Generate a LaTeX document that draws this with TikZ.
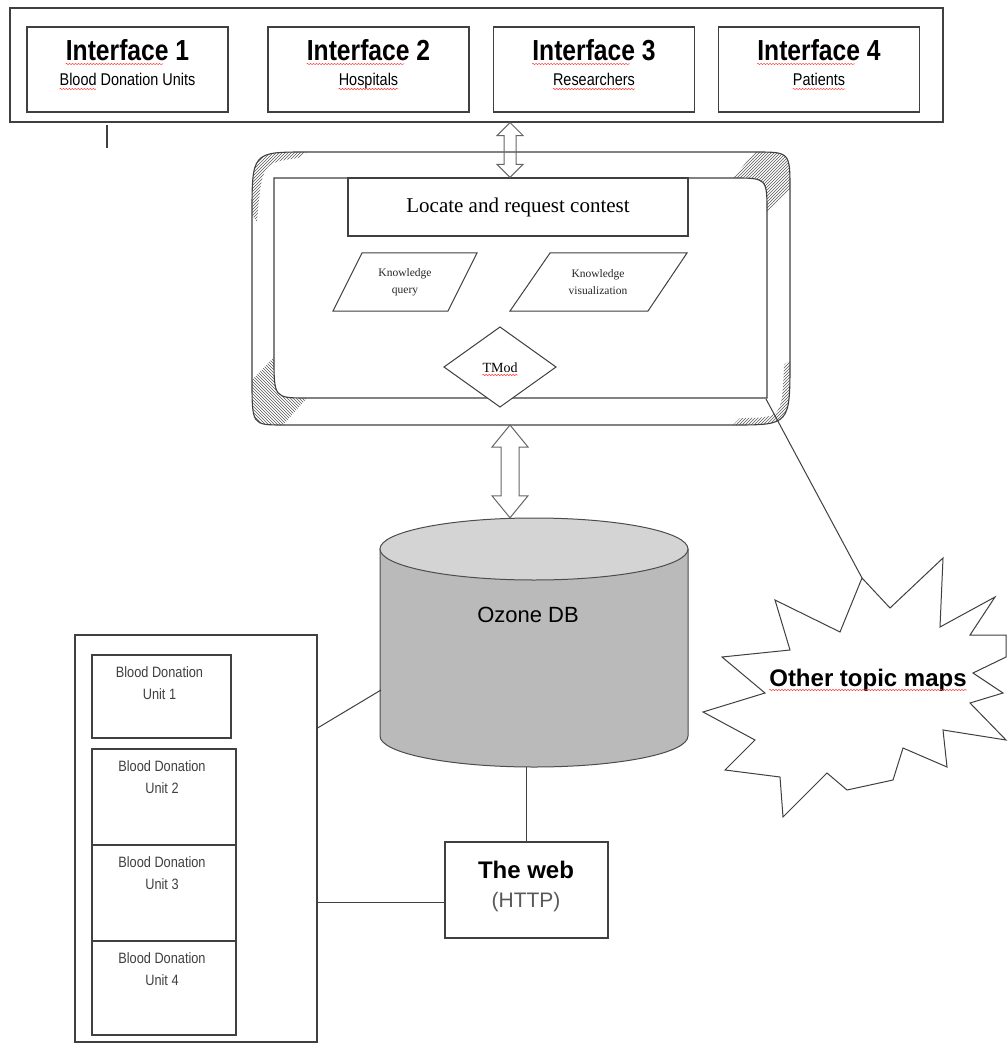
\documentclass[tikz,border=0pt]{standalone}
\usepackage{fontspec}
\setmainfont{Liberation Serif}
\setsansfont{Liberation Sans}
\newfontfamily\narrowsans[FakeStretch=0.85]{Liberation Sans}
\usetikzlibrary{calc,patterns,decorations.pathmorphing}
\newcommand{\hollowdbl}[5]{%
  \draw[arrowln] (#1) -- ($(#1)+(#4,#5)$) -- ($(#1)+(#3,#5)$) -- ($(#2)+(#3,-#5)$) -- ($(#2)+(#4,-#5)$) -- (#2)
   -- ($(#2)+(-#4,-#5)$) -- ($(#2)+(-#3,-#5)$) -- ($(#1)+(-#3,#5)$) -- ($(#1)+(-#4,#5)$) -- cycle;}
\begin{document}
\begin{tikzpicture}[x=1pt,y=-1pt,
  ln/.style={draw=black!75,line width=1.1pt},
  box/.style={ln,fill=white,inner sep=0pt},
  arrowln/.style={draw=black!60,line width=1pt},
  ttl/.style={font=\narrowsans\bfseries\fontsize{29}{30}\selectfont,inner sep=0pt,anchor=base},
  sub/.style={font=\narrowsans\fontsize{17}{19}\selectfont,inner sep=0pt,anchor=base},
  unittxt/.style={font=\narrowsans\fontsize{15}{22}\selectfont,text=black!75,align=center,inner sep=0pt,anchor=north},
  ktxt/.style={font=\fontsize{11.5}{17}\selectfont,text=black!85,align=center,inner sep=0pt},
  hatch/.style={pattern=north east lines,pattern color=black!65},
  squig/.style={draw=red!75,line width=0.5pt,decorate,decoration={snake,amplitude=0.7pt,segment length=3pt}}
]
\useasboundingbox (0,0) rectangle (1007,1056);
\fill[white] (0,0) rectangle (1007,1056);

% ---------- top interface strip ----------
\node[box,minimum width=933pt,minimum height=114pt] (top) at (476.5,65) {};
\foreach \i/\x/\s in {1/127.5/Blood Donation Units,2/368.5/Hospitals,3/594/Researchers,4/819/Patients}{
  \node[box,minimum width=201pt,minimum height=85pt,line width=1.3pt] (if\i) at (\x,69.5) {};
  \node[ttl] (t\i) at (\x,61) {Interface \i};
  \node[sub] (s\i) at (\x,86) {\s};
  \draw[squig] ($(t\i.base west)+(0,3)$) -- ($(t\i.base west)!0.79!(t\i.base east)+(0,3)$);
}
\draw[squig] ($(s1.base west)+(0,3)$) -- ($(s1.base west)!0.27!(s1.base east)+(0,3)$);
\foreach \i in {2,3,4}{\draw[squig] ($(s\i.base west)+(0,3)$) -- ($(s\i.base east)+(0,3)$);}
\coordinate (stubA) at (107,125);
\coordinate (stubB) at (107,148);
\draw[ln] (stubA) -- (stubB);

% ---------- bevel panel ----------
\fill[white] (307,152) -- (755,152) .. controls (790,152) .. (790,190) -- (790,360) .. controls (790,425) .. (733,425)
  -- (283,425) .. controls (252,425) .. (252,380) -- (252,215) .. controls (252,152) .. (307,152) -- cycle;
\fill[hatch] (252,215) .. controls (252,152) .. (307,152) -- (298,158) .. controls (262,163) .. (257,222) -- cycle;
\fill[hatch] (755,152) .. controls (790,152) .. (790,190) -- (767,213) .. controls (767,178) .. (733,178) -- cycle;
\fill[pattern=north west lines,pattern color=black!65] (252,380) .. controls (252,425) .. (283,425) -- (307,398) .. controls (274,398) .. (274,357) -- cycle;
\fill[hatch] (790,360) .. controls (790,425) .. (733,425) -- (740,418) .. controls (782,418) .. (784,365) -- cycle;
\draw[ln] (307,152) -- (755,152) .. controls (790,152) .. (790,190) -- (790,360) .. controls (790,425) .. (733,425)
  -- (283,425) .. controls (252,425) .. (252,380) -- (252,215) .. controls (252,152) .. (307,152) -- cycle;
\draw[ln] (274,178) -- (733,178) .. controls (767,178) .. (767,213) -- (767,398) -- (307,398) .. controls (274,398) .. (274,357) -- cycle;
\coordinate (bevTop) at (510,152);
\coordinate (bevBot) at (510,425);
\coordinate (bevBR) at (766,399);

\node[box,minimum width=340pt,minimum height=58pt,font=\fontsize{21}{22}\selectfont] (locate) at (518,207) {Locate and request contest};

% parallelograms
\draw[ln,line width=1pt] (362,253) -- (477,253) -- (448,311) -- (333,311) -- cycle;
\node[ktxt] (kq) at (405,282) {Knowledge\\query};
\draw[ln,line width=1pt] (550,253) -- (687,253) -- (648,311) -- (510,311) -- cycle;
\node[ktxt] (kv) at (598,282) {Knowledge\\visualization};

% TMod diamond
\draw[ln,line width=1pt,fill=white] (500,327) -- (556,367) -- (500,407) -- (444,367) -- cycle;
\node[font=\fontsize{14}{16}\selectfont,inner sep=0pt,anchor=base] (tmod) at (500,372) {TMod};
\draw[squig] ($(tmod.base west)+(0,3)$) -- ($(tmod.base east)+(0,3)$);

% ---------- database ----------
\node[minimum width=308pt,minimum height=249pt,inner sep=0pt] (db) at (534,642.5) {};
\path[fill=black!27,draw=black!70,line width=1pt] (380,549) -- (380,736) arc[start angle=180,end angle=0,x radius=154,y radius=31] -- (688,549) -- cycle;
\path[fill=black!17,draw=black!70,line width=1pt] (534,549) ellipse [x radius=154,y radius=31];
\node[font=\sffamily\fontsize{22}{24}\selectfont,text=black] (dblabel) at (528,615) {Ozone DB};

% ---------- double arrows ----------
\coordinate (ax) at (510,0);
\coordinate (ua) at (ax |- top.south);
\coordinate (ub) at (ax |- locate.north);
\hollowdbl{ua}{ub}{6}{13}{13}
\coordinate (la) at (bevBot);
\coordinate (lb) at (ax |- db.north);
\hollowdbl{la}{lb}{9}{18}{22}

% ---------- other topic maps ----------
\coordinate (starTip) at (862,578);
\draw[ln,line width=1pt] (bevBR) -- (starTip);
\draw[ln,line width=1pt,fill=white] (starTip) -- (890,608) -- (943,558) -- (940,627) -- (995,597) -- (970,635) -- (1006,635)
  -- (1006,657) -- (973,673) -- (1003,693) -- (970,703) -- (1006,740) -- (943,730) -- (947,767) -- (903,748) -- (893,780)
  -- (847,790) -- (827,773) -- (783,817) -- (780,777) -- (725,770) -- (755,740) -- (703,712) -- (765,693) -- (722,657)
  -- (790,650) -- (775,600) -- (840,632) -- cycle;
\node[font=\sffamily\bfseries\fontsize{24}{26}\selectfont,inner sep=0pt,anchor=base] (other) at (868,686) {Other topic maps};
\draw[squig] ($(other.base west)+(0,4)$) -- ($(other.base east)+(0,4)$);

% ---------- blood donation units ----------
\node[box,minimum width=242pt,minimum height=407pt] (leftbox) at (196,838.5) {};
\node[box,minimum width=139pt,minimum height=83pt] (u1) at (161.5,696.5) {};
\node[box,minimum width=144pt,minimum height=96pt] (u2) at (164,797) {};
\node[box,minimum width=144pt,minimum height=96pt] (u3) at (164,893) {};
\node[box,minimum width=144pt,minimum height=94pt] (u4) at (164,988) {};
\foreach \i in {1,2,3,4}{\node[unittxt] at ($(u\i.north)+(-2,12)$) {Blood Donation\\Unit \i};}

% ---------- the web ----------
\node[box,minimum width=163pt,minimum height=96pt] (web) at (526.5,890) {};
\node[font=\sffamily\bfseries\fontsize{24}{26}\selectfont,inner sep=0pt,anchor=base] (webt) at (526,878) {The web};
\node[font=\sffamily\fontsize{21}{23}\selectfont,text=black!65,inner sep=0pt,anchor=base] (webh) at (526,907) {(HTTP)};

% ---------- connectors ----------
\draw[ln,line width=1pt] (web.north) -- (web.north |- db.south);
\coordinate (wl) at ($(web.west)+(0,12)$);
\draw[ln,line width=1pt] (wl) -- (wl -| leftbox.east);
\coordinate (dbL) at (381,690);
\coordinate (lbR) at (leftbox.east |- 0,728);
\draw[ln,line width=1pt] (lbR) -- (dbL);
\end{tikzpicture}
\end{document}
